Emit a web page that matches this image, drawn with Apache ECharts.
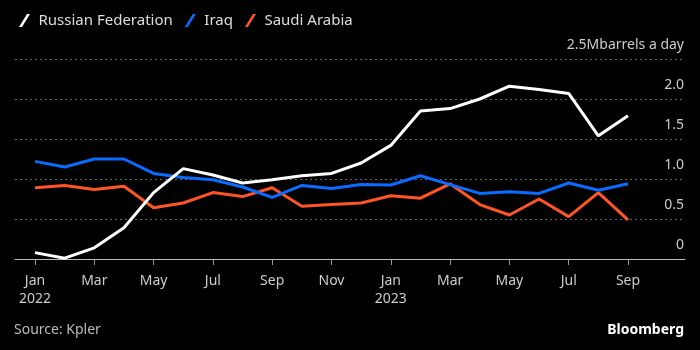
<!DOCTYPE html>
<html>
<head>
<meta charset="utf-8">
<script src="https://cdn.jsdelivr.net/npm/echarts@6/dist/echarts.min.js"></script>
<style>
  html, body { margin: 0; padding: 0; background: #000; }
  #chart { width: 700px; height: 350px; }
</style>
</head>
<body>
<div id="chart"></div>
<script>
// monthly, Jan 2022 - Sep 2023
var categories = ['Jan\n2022', 'Feb', 'Mar', 'Apr', 'May', 'Jun', 'Jul', 'Aug', 'Sep', 'Oct', 'Nov', 'Dec',
                  'Jan\n2023', 'Feb', 'Mar', 'Apr', 'May', 'Jun', 'Jul', 'Aug', 'Sep'];
var russia = [0.08, 0.01, 0.14, 0.39, 0.83, 1.13, 1.05, 0.95, 0.99, 1.04, 1.07, 1.20,
              1.42, 1.85, 1.88, 2.00, 2.16, 2.12, 2.07, 1.54, 1.79];
var iraq = [1.22, 1.15, 1.25, 1.25, 1.07, 1.02, 0.99, 0.90, 0.77, 0.92, 0.88, 0.93,
            0.925, 1.04, 0.93, 0.82, 0.84, 0.82, 0.95, 0.86, 0.94];
var saudi = [0.89, 0.92, 0.87, 0.91, 0.64, 0.70, 0.83, 0.78, 0.89, 0.66, 0.68, 0.70,
             0.79, 0.76, 0.94, 0.68, 0.55, 0.75, 0.53, 0.83, 0.49];
var yTicks = { min: 0, max: 2.5, step: 0.5 };

var slash = 'path://M0,13 L8,0 L11,0 L3,13 Z';

function yLabel(v) {
    if (v === 2.5) return '2.5Mbarrels a day';
    if (v === 0) return '0';
    return v.toFixed(1);
}

var myChart = echarts.init(document.getElementById('chart'));
var option = {
    backgroundColor: '#000',
    animation: false,
    textStyle: { fontFamily: 'Noto Sans' },
    legend: {
        left: 14,
        top: 8,
        itemWidth: 12,
        itemHeight: 13,
        itemGap: 12,
        textStyle: { color: '#ddd', fontSize: 15, fontFamily: 'Noto Sans', padding: [0, 0, 0, 3] },
        data: [
            { name: 'Russian Federation', icon: slash, itemStyle: { color: '#fff' } },
            { name: 'Iraq', icon: slash, itemStyle: { color: '#0a6cff' } },
            { name: 'Saudi Arabia', icon: slash, itemStyle: { color: '#ff5526' } }
        ]
    },
    grid: [
        { left: 15, right: 15, top: 59, height: 200 },
        { left: 35, right: 72, top: 59, height: 200 }
    ],
    xAxis: [{
        gridIndex: 0,
        type: 'value',
        min: 0,
        max: 1,
        axisLine: { show: true, lineStyle: { color: '#bbb', width: 1 } },
        axisTick: { show: false },
        axisLabel: { show: false },
        splitLine: { show: false }
    }, {
        gridIndex: 1,
        type: 'category',
        boundaryGap: false,
        data: categories,
        axisLine: { show: false },
        axisTick: { show: true, interval: 1, length: 6, lineStyle: { color: '#999' } },
        axisLabel: {
            interval: 1,
            color: '#ccc',
            fontSize: 14,
            lineHeight: 18,
            margin: 13
        },
        splitLine: { show: false }
    }],
    yAxis: [{
        gridIndex: 0,
        type: 'value',
        position: 'right',
        min: yTicks.min,
        max: yTicks.max,
        interval: yTicks.step,
        axisLine: { show: false },
        axisTick: { show: false },
        axisLabel: {
            inside: true,
            margin: 1,
            color: '#ccc',
            fontSize: 14,
            verticalAlign: 'bottom',
            lineHeight: 16,
            padding: [0, 0, 6, 0],
            formatter: yLabel
        },
        splitLine: { lineStyle: { color: '#666', type: [2, 3], width: 1 } }
    }, {
        gridIndex: 1,
        type: 'value',
        min: yTicks.min,
        max: yTicks.max,
        show: false
    }],
    series: [{
        name: 'Russian Federation',
        type: 'line',
        xAxisIndex: 1,
        yAxisIndex: 1,
        data: russia,
        symbol: 'none',
        lineStyle: { color: '#fff', width: 3 },
        itemStyle: { color: '#fff' },
        z: 4
    }, {
        name: 'Iraq',
        type: 'line',
        xAxisIndex: 1,
        yAxisIndex: 1,
        data: iraq,
        symbol: 'none',
        lineStyle: { color: '#0a6cff', width: 3 },
        itemStyle: { color: '#0a6cff' },
        z: 3
    }, {
        name: 'Saudi Arabia',
        type: 'line',
        xAxisIndex: 1,
        yAxisIndex: 1,
        data: saudi,
        symbol: 'none',
        lineStyle: { color: '#ff5526', width: 3 },
        itemStyle: { color: '#ff5526' },
        z: 2
    }],
    graphic: [{
        type: 'text',
        left: 14,
        top: 323,
        style: { text: 'Source: Kpler', fill: '#bbb', fontSize: 14, fontFamily: 'Noto Sans' }
    }, {
        type: 'text',
        right: 16,
        top: 323,
        style: { text: 'Bloomberg', fill: '#fff', fontSize: 14, fontWeight: 'bold', fontFamily: 'Noto Sans' }
    }]
};
myChart.setOption(option, true);
</script>
</body>
</html>
